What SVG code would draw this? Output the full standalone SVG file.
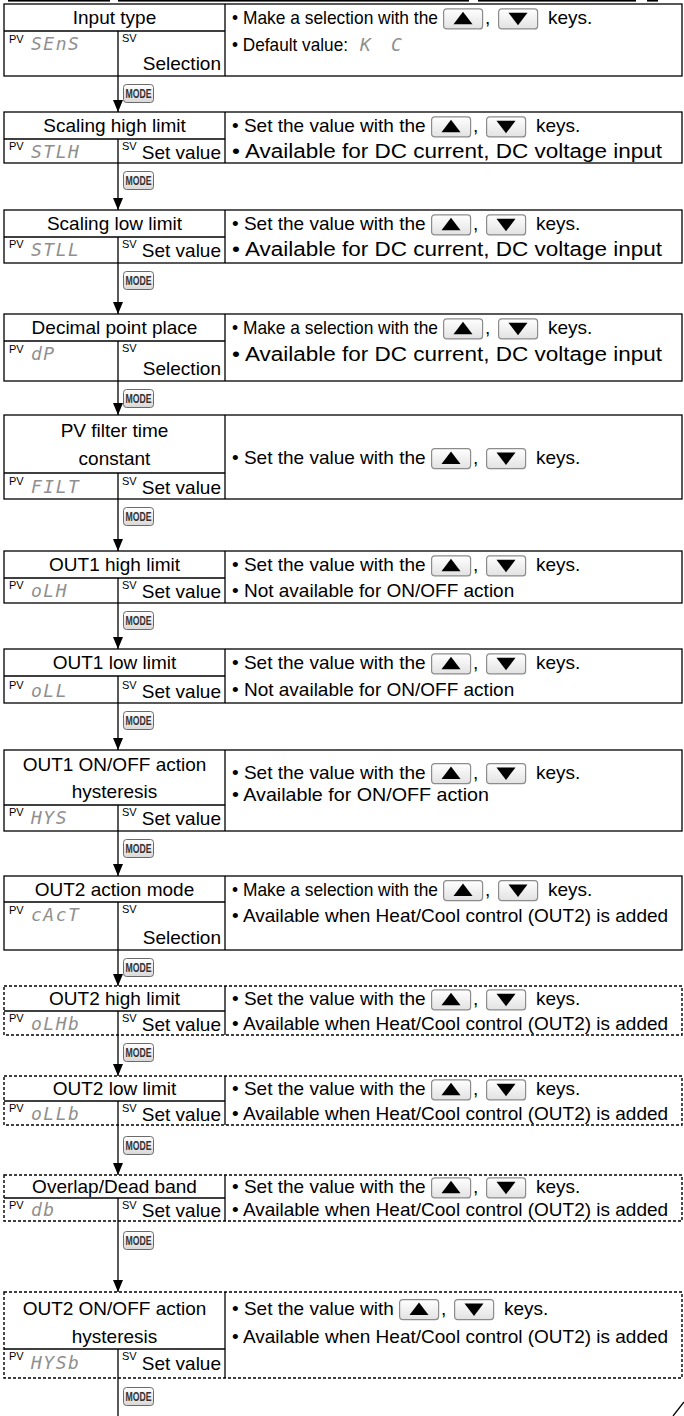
<svg xmlns="http://www.w3.org/2000/svg" width="684" height="1416" viewBox="0 0 684 1416">
<style>
.box{fill:none;stroke:#000;stroke-width:1.3}
.dash{fill:none;stroke:#000;stroke-width:1.4;stroke-dasharray:3 2}
.ln{stroke:#000;stroke-width:1.3;fill:none}
.t{font-family:'Liberation Sans',Arial,sans-serif;font-size:19px;fill:#000}
.big{font-size:20px}
.c{text-anchor:middle}
.e{text-anchor:end}
.sup{font-family:'Liberation Sans',Arial,sans-serif;font-size:11px;fill:#000}
.seg{font-family:'DejaVu Sans Mono',monospace;font-style:italic;font-size:18px;fill:#8f8f8f;letter-spacing:1.5px}
.key{fill:url(#kg);stroke:#8c8c8c;stroke-width:1.2}
.mt{font-family:'Liberation Sans',Arial,sans-serif;font-weight:bold;font-size:12px;fill:#333}
</style>
<defs>
<linearGradient id="kg" x1="0" y1="0" x2="0" y2="1"><stop offset="0" stop-color="#ffffff"/><stop offset="1" stop-color="#e2e2e2"/></linearGradient>
<linearGradient id="mg" x1="0" y1="0" x2="0" y2="1"><stop offset="0" stop-color="#ffffff"/><stop offset="1" stop-color="#d8d8d8"/></linearGradient>
<marker id="ah" viewBox="0 0 12 10" refX="12" refY="5" markerWidth="12" markerHeight="10" markerUnits="userSpaceOnUse" orient="auto"><path d="M0,0 L12,5 L0,10 Z" fill="#000"/></marker>
<g id="kup"><rect class="key" x="0.6" y="0.6" width="39" height="20" rx="3"/><path d="M20,3.5 L29.5,16 L10.5,16 Z" fill="#000"/></g>
<g id="kdn"><rect class="key" x="0.6" y="0.6" width="39" height="20" rx="3"/><path d="M10.5,4.5 L29.5,4.5 L20,17 Z" fill="#000"/></g>
<g id="mode"><rect x="0.5" y="0.5" width="30" height="18" rx="3" fill="url(#mg)" stroke="#6a6a6a" stroke-width="1"/><text class="mt" x="15.5" y="14" text-anchor="middle" textLength="26" lengthAdjust="spacingAndGlyphs">MODE</text></g>
</defs>

<g id="top-fragments" fill="#000">
<rect x="8" y="0" width="102" height="1.6"/>
<rect x="118" y="0" width="351" height="1.6"/>
<rect x="478" y="0" width="158" height="1.6"/>
<rect x="647" y="0" width="11" height="1.6"/>
</g>

<g id="connectors">
<line class="ln" x1="118" y1="76" x2="118" y2="112" marker-end="url(#ah)"/>
<line class="ln" x1="118" y1="163" x2="118" y2="210" marker-end="url(#ah)"/>
<line class="ln" x1="118" y1="263" x2="118" y2="314" marker-end="url(#ah)"/>
<line class="ln" x1="118" y1="381" x2="118" y2="415" marker-end="url(#ah)"/>
<line class="ln" x1="118" y1="499" x2="118" y2="551" marker-end="url(#ah)"/>
<line class="ln" x1="118" y1="603" x2="118" y2="649" marker-end="url(#ah)"/>
<line class="ln" x1="118" y1="703" x2="118" y2="750" marker-end="url(#ah)"/>
<line class="ln" x1="118" y1="831" x2="118" y2="876" marker-end="url(#ah)"/>
<line class="ln" x1="118" y1="950" x2="118" y2="986" marker-end="url(#ah)"/>
<line class="ln" x1="118" y1="1035" x2="118" y2="1076" marker-end="url(#ah)"/>
<line class="ln" x1="118" y1="1125" x2="118" y2="1175" marker-end="url(#ah)"/>
<line class="ln" x1="118" y1="1221" x2="118" y2="1292" marker-end="url(#ah)"/>
<line class="ln" x1="118" y1="1378" x2="118" y2="1416"/>
<use href="#mode" x="123" y="84"/>
<use href="#mode" x="123" y="171"/>
<use href="#mode" x="123" y="271"/>
<use href="#mode" x="123" y="389"/>
<use href="#mode" x="123" y="507"/>
<use href="#mode" x="123" y="611"/>
<use href="#mode" x="123" y="711"/>
<use href="#mode" x="123" y="839"/>
<use href="#mode" x="123" y="958"/>
<use href="#mode" x="123" y="1043"/>
<use href="#mode" x="123" y="1136"/>
<use href="#mode" x="123" y="1231"/>
<use href="#mode" x="123" y="1387"/>
</g>

<g id="n1">
<rect class="box" x="4" y="4" width="678" height="72"/>
<path class="ln" d="M225,4 V76 M4,31 H225 M118,31 V76"/>
<text class="t c" x="114.5" y="24.3">Input type</text>
<text class="sup" x="9" y="43">PV</text><text class="seg" x="31" y="50">SEnS</text>
<text class="sup" x="122" y="42">SV</text><text class="t e" x="221" y="70">Selection</text>
<text class="t" x="232" y="24.3" textLength="206" lengthAdjust="spacingAndGlyphs">• Make a selection with the</text>
<use href="#kup" x="443" y="8.3"/><text class="t" x="485" y="24.3">,</text><use href="#kdn" x="498" y="8.3"/><text class="t" x="548" y="24.3">keys.</text>
<text class="t" x="232" y="50.8" textLength="116" lengthAdjust="spacingAndGlyphs">• Default value:</text>
<text class="seg" x="360" y="50.8">K</text><text class="seg" x="391" y="50.8">C</text>
</g>

<g id="n2">
<rect class="box" x="4" y="112" width="678" height="51"/>
<path class="ln" d="M225,112 V163 M4,139 H225 M118,139 V163"/>
<text class="t c" x="114.5" y="132.3">Scaling high limit</text>
<text class="sup" x="9" y="150">PV</text><text class="seg" x="31" y="158">STLH</text>
<text class="sup" x="122" y="150">SV</text><text class="t e" x="221" y="159">Set value</text>
<text class="t" x="232" y="132.3">• Set the value with the</text>
<use href="#kup" x="431" y="116.3"/><text class="t" x="473" y="132.3">,</text><use href="#kdn" x="486" y="116.3"/><text class="t" x="536" y="132.3">keys.</text>
<text class="t big" x="232" y="158.3" textLength="430" lengthAdjust="spacingAndGlyphs">• Available for DC current, DC voltage input</text>
</g>

<g id="n3">
<rect class="box" x="4" y="210" width="678" height="53"/>
<path class="ln" d="M225,210 V263 M4,237 H225 M118,237 V263"/>
<text class="t c" x="114.5" y="230.3">Scaling low limit</text>
<text class="sup" x="9" y="248">PV</text><text class="seg" x="31" y="256">STLL</text>
<text class="sup" x="122" y="248">SV</text><text class="t e" x="221" y="257">Set value</text>
<text class="t" x="232" y="230.3">• Set the value with the</text>
<use href="#kup" x="431" y="214.3"/><text class="t" x="473" y="230.3">,</text><use href="#kdn" x="486" y="214.3"/><text class="t" x="536" y="230.3">keys.</text>
<text class="t big" x="232" y="256.3" textLength="430" lengthAdjust="spacingAndGlyphs">• Available for DC current, DC voltage input</text>
</g>

<g id="n4">
<rect class="box" x="4" y="314" width="678" height="67"/>
<path class="ln" d="M225,314 V381 M4,341 H225 M118,341 V381"/>
<text class="t c" x="114.5" y="334.3">Decimal point place</text>
<text class="sup" x="9" y="353">PV</text><text class="seg" x="31" y="360">dP</text>
<text class="sup" x="122" y="352">SV</text><text class="t e" x="221" y="375">Selection</text>
<text class="t" x="232" y="334.3" textLength="206" lengthAdjust="spacingAndGlyphs">• Make a selection with the</text>
<use href="#kup" x="443" y="318.3"/><text class="t" x="485" y="334.3">,</text><use href="#kdn" x="498" y="318.3"/><text class="t" x="548" y="334.3">keys.</text>
<text class="t big" x="232" y="360.8" textLength="430" lengthAdjust="spacingAndGlyphs">• Available for DC current, DC voltage input</text>
</g>

<g id="n5">
<rect class="box" x="4" y="415" width="678" height="84"/>
<path class="ln" d="M225,415 V499 M4,473 H225 M118,473 V499"/>
<text class="t c" x="114.5" y="437">PV filter time</text>
<text class="t c" x="114.5" y="465">constant</text>
<text class="sup" x="9" y="485">PV</text><text class="seg" x="31" y="493">FILT</text>
<text class="sup" x="122" y="485">SV</text><text class="t e" x="221" y="494">Set value</text>
<text class="t" x="232" y="464">• Set the value with the</text>
<use href="#kup" x="431" y="448"/><text class="t" x="473" y="464">,</text><use href="#kdn" x="486" y="448"/><text class="t" x="536" y="464">keys.</text>
</g>

<g id="n6">
<rect class="box" x="4" y="551" width="678" height="52"/>
<path class="ln" d="M225,551 V603 M4,578 H225 M118,578 V603"/>
<text class="t c" x="114.5" y="571.3">OUT1 high limit</text>
<text class="sup" x="9" y="589">PV</text><text class="seg" x="31" y="597">oLH</text>
<text class="sup" x="122" y="589">SV</text><text class="t e" x="221" y="598">Set value</text>
<text class="t" x="232" y="571.3">• Set the value with the</text>
<use href="#kup" x="431" y="555.3"/><text class="t" x="473" y="571.3">,</text><use href="#kdn" x="486" y="555.3"/><text class="t" x="536" y="571.3">keys.</text>
<text class="t" x="232" y="597.3">• Not available for ON/OFF action</text>
</g>

<g id="n7">
<rect class="box" x="4" y="649" width="678" height="54"/>
<path class="ln" d="M225,649 V703 M4,676 H225 M118,676 V703"/>
<text class="t c" x="114.5" y="669.3">OUT1 low limit</text>
<text class="sup" x="9" y="689">PV</text><text class="seg" x="31" y="697">oLL</text>
<text class="sup" x="122" y="689">SV</text><text class="t e" x="221" y="698">Set value</text>
<text class="t" x="232" y="669.3">• Set the value with the</text>
<use href="#kup" x="431" y="653.3"/><text class="t" x="473" y="669.3">,</text><use href="#kdn" x="486" y="653.3"/><text class="t" x="536" y="669.3">keys.</text>
<text class="t" x="232" y="696">• Not available for ON/OFF action</text>
</g>

<g id="n8">
<rect class="box" x="4" y="750" width="678" height="81"/>
<path class="ln" d="M225,750 V831 M4,805 H225 M118,805 V831"/>
<text class="t c" x="114.5" y="770.5">OUT1 ON/OFF action</text>
<text class="t c" x="114.5" y="798">hysteresis</text>
<text class="sup" x="9" y="816">PV</text><text class="seg" x="31" y="824">HYS</text>
<text class="sup" x="122" y="816">SV</text><text class="t e" x="221" y="825">Set value</text>
<text class="t" x="232" y="779">• Set the value with the</text>
<use href="#kup" x="431" y="763"/><text class="t" x="473" y="779">,</text><use href="#kdn" x="486" y="763"/><text class="t" x="536" y="779">keys.</text>
<text class="t" x="232" y="801" textLength="257" lengthAdjust="spacingAndGlyphs">• Available for ON/OFF action</text>
</g>

<g id="n9">
<rect class="box" x="4" y="876" width="678" height="74"/>
<path class="ln" d="M225,876 V950 M4,902 H225 M118,902 V950"/>
<text class="t c" x="114.5" y="896">OUT2 action mode</text>
<text class="sup" x="9" y="914">PV</text><text class="seg" x="31" y="921">cAcT</text>
<text class="sup" x="122" y="913">SV</text><text class="t e" x="221" y="944">Selection</text>
<text class="t" x="232" y="896" textLength="206" lengthAdjust="spacingAndGlyphs">• Make a selection with the</text>
<use href="#kup" x="443" y="880"/><text class="t" x="485" y="896">,</text><use href="#kdn" x="498" y="880"/><text class="t" x="548" y="896">keys.</text>
<text class="t" x="232" y="921.5">• Available when Heat/Cool control (OUT2) is added</text>
</g>

<g id="n10">
<rect class="dash" x="4" y="986" width="678" height="49"/>
<path class="ln" d="M225,986 V1035 M4,1011 H225 M118,1011 V1035"/>
<text class="t c" x="114.5" y="1005.3">OUT2 high limit</text>
<text class="sup" x="9" y="1022">PV</text><text class="seg" x="31" y="1030">oLHb</text>
<text class="sup" x="122" y="1022">SV</text><text class="t e" x="221" y="1031">Set value</text>
<text class="t" x="232" y="1005.3">• Set the value with the</text>
<use href="#kup" x="431" y="989.3"/><text class="t" x="473" y="1005.3">,</text><use href="#kdn" x="486" y="989.3"/><text class="t" x="536" y="1005.3">keys.</text>
<text class="t" x="232" y="1030">• Available when Heat/Cool control (OUT2) is added</text>
</g>

<g id="n11">
<rect class="dash" x="4" y="1076" width="678" height="49"/>
<path class="ln" d="M225,1076 V1125 M4,1101 H225 M118,1101 V1125"/>
<text class="t c" x="114.5" y="1095.3">OUT2 low limit</text>
<text class="sup" x="9" y="1112">PV</text><text class="seg" x="31" y="1120">oLLb</text>
<text class="sup" x="122" y="1112">SV</text><text class="t e" x="221" y="1121">Set value</text>
<text class="t" x="232" y="1095.3">• Set the value with the</text>
<use href="#kup" x="431" y="1079.3"/><text class="t" x="473" y="1095.3">,</text><use href="#kdn" x="486" y="1079.3"/><text class="t" x="536" y="1095.3">keys.</text>
<text class="t" x="232" y="1120">• Available when Heat/Cool control (OUT2) is added</text>
</g>

<g id="n12">
<rect class="dash" x="4" y="1175" width="678" height="46"/>
<path class="ln" d="M225,1175 V1221 M4,1198 H225 M118,1198 V1221"/>
<text class="t c" x="114.5" y="1193.3">Overlap/Dead band</text>
<text class="sup" x="9" y="1209">PV</text><text class="seg" x="31" y="1216">db</text>
<text class="sup" x="122" y="1209">SV</text><text class="t e" x="221" y="1217">Set value</text>
<text class="t" x="232" y="1193.3">• Set the value with the</text>
<use href="#kup" x="431" y="1177.3"/><text class="t" x="473" y="1193.3">,</text><use href="#kdn" x="486" y="1177.3"/><text class="t" x="536" y="1193.3">keys.</text>
<text class="t" x="232" y="1216">• Available when Heat/Cool control (OUT2) is added</text>
</g>

<g id="n13">
<rect class="dash" x="4" y="1292" width="678" height="86"/>
<path class="ln" d="M225,1292 V1378 M4,1349 H225 M118,1349 V1378"/>
<text class="t c" x="114.5" y="1315">OUT2 ON/OFF action</text>
<text class="t c" x="114.5" y="1343">hysteresis</text>
<text class="sup" x="9" y="1360">PV</text><text class="seg" x="31" y="1369">HYSb</text>
<text class="sup" x="122" y="1360">SV</text><text class="t e" x="221" y="1370">Set value</text>
<text class="t" x="232" y="1315">• Set the value with</text>
<use href="#kup" x="399" y="1299"/><text class="t" x="441" y="1315">,</text><use href="#kdn" x="454" y="1299"/><text class="t" x="504" y="1315">keys.</text>
<text class="t" x="232" y="1343">• Available when Heat/Cool control (OUT2) is added</text>
</g>

<line class="ln" x1="673" y1="1416" x2="684" y2="1402"/>
</svg>
